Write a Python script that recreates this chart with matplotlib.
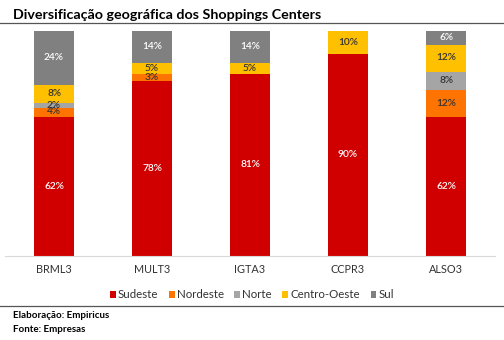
import numpy as np
import matplotlib
matplotlib.use("Agg")
import matplotlib.pyplot as plt

plt.rcParams["font.family"] = ["Lato", "DejaVu Sans"]

empresas = ["BRML3", "MULT3", "IGTA3", "CCPR3", "ALSO3"]
sudeste = [62, 78, 81, 90, 62]
nordeste = [4, 3, 0, 0, 12]
norte = [2, 0, 0, 0, 8]
centro_oeste = [8, 5, 5, 10, 12]
sul = [24, 14, 14, 0, 6]

series = [
    ("Sudeste", sudeste, "#D00000", "white"),
    ("Nordeste", nordeste, "#FF7300", "#333333"),
    ("Norte", norte, "#A5A5A5", "#333333"),
    ("Centro-Oeste", centro_oeste, "#FFC000", "#333333"),
    ("Sul", sul, "#808080", "white"),
]

fig = plt.figure(figsize=(5.04, 3.40), dpi=100)
ax = fig.add_axes([5 / 504, 1 - 256 / 340, 490 / 504, 225 / 340])

x = np.arange(len(empresas))
bottom = np.zeros(len(empresas))
for nome, vals, cor, cor_txt in series:
    vals = np.array(vals, dtype=float)
    ax.bar(x, vals, 0.4, bottom=bottom, color=cor, label=nome, edgecolor="none")
    for i, v in enumerate(vals):
        if v > 0:
            ax.text(x[i], bottom[i] + v / 2, f"{int(v)}%", ha="center", va="center",
                    fontsize=7.3, color=cor_txt, fontweight="semibold")
    bottom += vals

ax.set_xlim(-0.5, len(empresas) - 0.5)
ax.set_ylim(0, 100)
ax.set_yticks([])
ax.set_xticks(x)
ax.set_xticklabels(empresas, fontsize=7.8, color="#333333")
ax.tick_params(axis="x", length=0, pad=6)
for s in ["top", "left", "right"]:
    ax.spines[s].set_visible(False)
ax.spines["bottom"].set_color("#D9D9D9")

leg = fig.legend(loc="center", bbox_to_anchor=(0.5, 1 - 295 / 340), ncol=5, frameon=False,
                 fontsize=8.3, handlelength=0.5, handleheight=0.5, handletextpad=0.2,
                 columnspacing=0.9)
for t in leg.get_texts():
    t.set_color("#333333")

fig.text(13 / 504, 1 - 15 / 340, "Diversificação geográfica dos Shoppings Centers",
         fontsize=10.3, fontweight="bold", va="center", color="black")
fig.add_artist(plt.Line2D([0, 1], [1 - 23 / 340] * 2, color="#555555", lw=0.9))
fig.add_artist(plt.Line2D([0, 1], [1 - 306 / 340] * 2, color="#555555", lw=0.9))
fig.text(13 / 504, 1 - 315 / 340, "Elaboração: Empiricus", fontsize=7, fontweight="bold", va="center")
fig.text(13 / 504, 1 - 329 / 340, "Fonte: Empresas", fontsize=7, fontweight="bold", va="center")

fig.savefig("out.png", dpi=100)
